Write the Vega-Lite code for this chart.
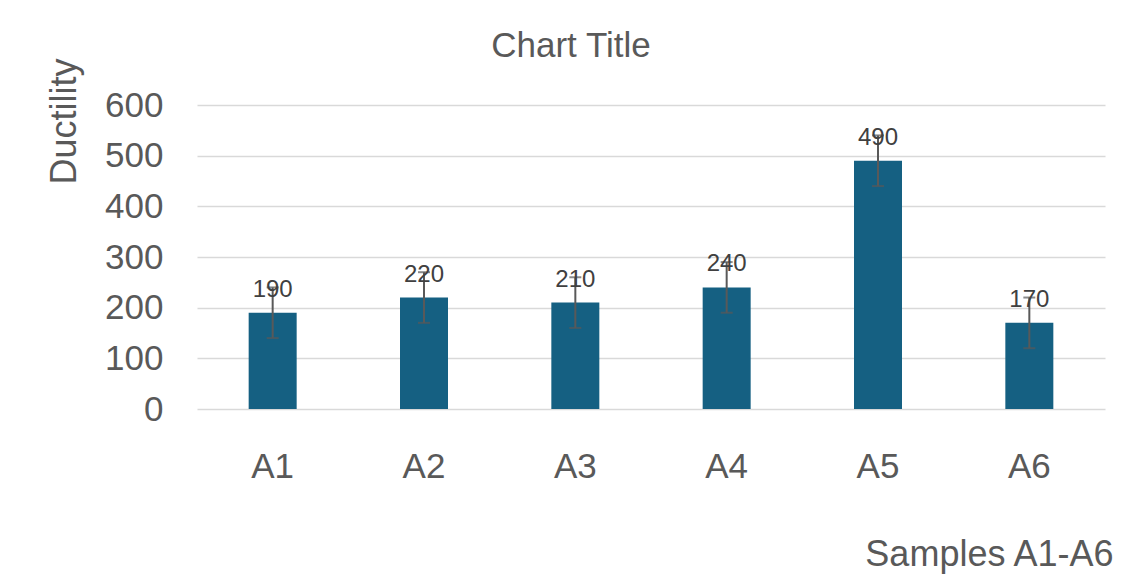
{
  "$schema": "https://vega.github.io/schema/vega-lite/v6.json",
  "width": 908,
  "height": 304,
  "autosize": {"type": "none"},
  "padding": {"left": 197, "top": 105, "right": 19, "bottom": 169},
  "background": "white",
  "config": {
    "font": "Liberation Sans",
    "view": {"stroke": null},
    "axisY": {
      "titleFontSize": 36,
      "titleFontWeight": "normal",
      "titleColor": "#595959",
      "titleAngle": -90,
      "titleX": -122,
      "titleY": 16,
      "titleAlign": "center",
      "titleBaseline": "alphabetic",
      "values": [0, 100, 200, 300, 400, 500, 600],
      "labelFontSize": 35,
      "labelColor": "#595959",
      "labelPadding": 34,
      "domain": false,
      "ticks": false,
      "grid": true,
      "gridColor": "#d9d9d9",
      "gridWidth": 1.3
    }
  },
  "title": {
    "text": "Chart Title",
    "fontSize": 35,
    "fontWeight": "normal",
    "color": "#595959",
    "anchor": "middle",
    "frame": "group",
    "dx": -80,
    "dy": 34,
    "baseline": "alphabetic",
    "offset": 0
  },
  "data": {
    "values": [
      {"sample": "A1", "ductility": 190, "low": 140, "high": 240},
      {"sample": "A2", "ductility": 220, "low": 170, "high": 270},
      {"sample": "A3", "ductility": 210, "low": 160, "high": 260},
      {"sample": "A4", "ductility": 240, "low": 190, "high": 290},
      {"sample": "A5", "ductility": 490, "low": 440, "high": 540},
      {"sample": "A6", "ductility": 170, "low": 120, "high": 220}
    ]
  },
  "encoding": {
    "x": {
      "field": "sample",
      "type": "nominal",
      "scale": {"type": "band", "paddingInner": 0, "paddingOuter": 0},
      "axis": {
        "title": "Samples A1-A6",
        "titleFontSize": 36,
        "titleFontWeight": "normal",
        "titleColor": "#595959",
        "titleX": 916,
        "titleY": 156,
        "titleAlign": "right",
        "titleBaseline": "alphabetic",
        "labelFontSize": 35,
        "labelColor": "#595959",
        "labelAngle": 0,
        "labelBaseline": "alphabetic",
        "labelPadding": 68,
        "domain": false,
        "ticks": false,
        "grid": false
      }
    }
  },
  "layer": [
    {
      "mark": {"type": "bar", "color": "#156082", "size": 48},
      "encoding": {
        "y": {
          "field": "ductility",
          "type": "quantitative",
          "scale": {"domain": [0, 600]},
          "axis": {"title": "Ductility"}
        }
      }
    },
    {
      "mark": {"type": "rule", "color": "#595959", "strokeWidth": 2},
      "encoding": {
        "y": {"field": "low", "type": "quantitative", "axis": {"title": "Ductility"}},
        "y2": {"field": "high"}
      }
    },
    {
      "mark": {"type": "tick", "color": "#595959", "thickness": 2, "size": 12},
      "encoding": {
        "y": {"field": "low", "type": "quantitative", "axis": {"title": "Ductility"}}
      }
    },
    {
      "mark": {"type": "tick", "color": "#595959", "thickness": 2, "size": 12},
      "encoding": {
        "y": {"field": "high", "type": "quantitative", "axis": {"title": "Ductility"}}
      }
    },
    {
      "mark": {"type": "text", "dy": -16, "baseline": "alphabetic", "fontSize": 24, "color": "#404040"},
      "encoding": {
        "y": {"field": "ductility", "type": "quantitative", "axis": {"title": "Ductility"}},
        "text": {"field": "ductility", "type": "quantitative"}
      }
    }
  ]
}
